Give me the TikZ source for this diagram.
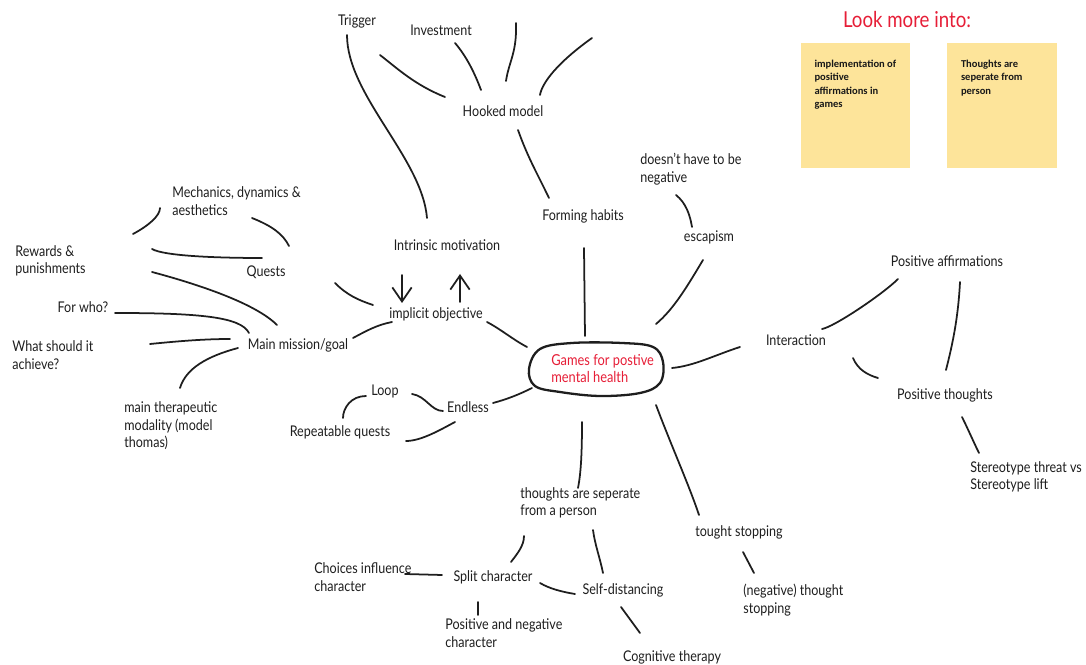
\documentclass[tikz,border=0pt]{standalone}
\usepackage{fontspec}
\setmainfont{Lato}[FakeStretch=0.85]
\newfontfamily\notefont{Carlito}
\usetikzlibrary{calc,positioning,arrows.meta}
\definecolor{notefill}{RGB}{253,228,154}
\definecolor{mapred}{RGB}{230,30,55}
\definecolor{inkline}{RGB}{30,30,30}
\tikzset{
  link/.style={
    draw=inkline,
    line width=1pt,
    line cap=round,
    line join=round
  },
  link-arrow/.style={link, -{Straight Barb[length=8pt,width=11pt]}},
  label-text/.style={inner sep=0pt, text=inkline, font=\fontsize{8.4pt}{10pt}\selectfont, text height=6pt, text depth=1.8pt},
  label-block/.style={inner sep=0pt, text=inkline, font=\fontsize{8.4pt}{10pt}\selectfont, align=left, anchor=west},
  label-red/.style={label-block, text=mapred, font=\fontsize{8.6pt}{9.7pt}\selectfont},
  note-box/.style={fill=notefill, minimum width=2.2cm, minimum height=2.5cm, inner sep=0pt},
  note-text/.style={inner sep=0pt, font=\notefont\bfseries\fontsize{6pt}{7.6pt}\selectfont, align=left, text=black!90},
  title-red/.style={inner sep=0pt, text=mapred, font=\fontsize{12.5pt}{14pt}\selectfont}
}
\newcommand{\stickynote}[3]{
  \node[note-box] (#1) at (#2) {};
  \node[note-text, below right=0.34cm and 0.28cm of #1.north west] (#1-text) {#3};
}

\begin{document}
\begin{tikzpicture}[x=0.02cm, y=-0.02cm]
  \useasboundingbox (0,0) rectangle (1086,665);
  % centre
  \node[label-red] (games) at (551,369) {Games for postive\\mental health};
  \draw[link, line width=1.3pt] plot[smooth cycle, tension=0.6] coordinates {(540,349) (572,343) (622,343) (653,347) (663,362) (660,383) (640,393) (600,396) (560,392) (535,386) (529,369)};
  % hooked model branch
  \node[label-text] (trigger) at (357,22) {Trigger};
  \node[label-text] (investment) at (441,32) {Investment};
  \node[label-text] (hooked) at (503,113) {Hooked model};
  \node[label-text] (forming) at (583,217) {Forming habits};
  \coordinate (stub-left) at (380,55);
  \coordinate (stub-top) at (516,23);
  \coordinate (stub-right) at (592,38);
  \draw[link] (stub-left) .. controls +(18,14) and +(-30,-12) .. ($(hooked)+(-58,-16)$);
  \draw[link] ($(investment)+(14,11)$) .. controls +(12,14) and +(-6,-16) .. ($(hooked)+(-22,-23)$);
  \draw[link] (stub-top) .. controls +(1,30) and +(3,-20) .. ($(hooked)+(3,-32)$);
  \draw[link] (stub-right) .. controls +(-35,25) and +(2,-12) .. ($(hooked)+(37,-18)$);
  \draw[link] ($(hooked)+(15,17)$) .. controls +(10,28) and +(-12,-25) .. ($(forming)+(-34,-19)$);
  \draw[link] ($(forming)+(1,31)$) -- ($(games.west)+(34,-33)$);
  % escapism
  \node[label-block] (not-negative) at (640,169) {doesn't have to be\\negative};
  \node[label-text] (escapism) at (709,238) {escapism};
  \draw[link] ($(not-negative.west)+(36,26)$) .. controls +(10,8) and +(-2,-12) .. ($(escapism)+(-17,-11)$);
  \draw[link] ($(escapism)+(-6,22)$) .. controls +(-15,25) and +(18,-15) .. ($(games.west)+(105,-45)$);
  % motivation and objective
  \node[label-text] (intrinsic) at (447,247) {Intrinsic motivation};
  \node[label-text] (implicit) at (436,315) {implicit objective};
  \draw[link] ($(trigger)+(-10,13)$) .. controls +(0,60) and +(-5,-60) .. ($(intrinsic)+(-20,-29)$);
  \draw[link-arrow] ($(intrinsic)+(-45,28)$) -- ($(implicit)+(-34,-12)$);
  \draw[link-arrow] ($(implicit)+(24,-13)$) -- ($(intrinsic)+(13,27)$);
  \draw[link] ($(implicit)+(51,7)$) .. controls +(15,8) and +(-15,-8) .. ($(games.west)+(-24,-22)$);
  % main mission branch
  \node[label-block] (mechanics) at (172,201) {Mechanics, dynamics \&\\aesthetics};
  \node[label-block] (rewards) at (15,261) {Rewards \&\\punishments};
  \node[label-text] (quests) at (266,273) {Quests};
  \node[label-text] (forwho) at (83,309) {For who?};
  \node[label-text] (mainmission) at (298,346) {Main mission/goal};
  \node[label-block] (whatshould) at (12,355) {What should it\\achieve?};
  \node[label-block] (therapeutic) at (124,426) {main therapeutic\\modality (model\\thomas)};
  \coordinate (stub-mech) at (133,234);
  \draw[link] (stub-mech) .. controls +(15,-8) and +(0,8) .. ($(mechanics.west)+(-12,7)$);
  \draw[link] ($(mechanics.west)+(80,17)$) .. controls +(20,8) and +(-6,-12) .. ($(quests)+(23,-27)$);
  \draw[link] ($(rewards.west)+(137,-12)$) .. controls +(12,7) and +(-45,0) .. ($(quests)+(-4,-15)$);
  \draw[link] ($(rewards.west)+(137,11)$) .. controls +(45,12) and +(-22,-22) .. ($(mainmission)+(-21,-21)$);
  \draw[link] ($(quests)+(69,10)$) .. controls +(12,12) and +(-15,-5) .. ($(implicit)+(-63,-10)$);
  \draw[link] ($(forwho)+(32,4)$) .. controls +(85,0) and +(-8,-16) .. ($(mainmission)+(-49,-13)$);
  \draw[link] ($(whatshould.west)+(138,-11)$) .. controls +(30,-3) and +(-25,0) .. ($(mainmission)+(-68,-7)$);
  \draw[link] ($(therapeutic.west)+(56,-38)$) .. controls +(6,-20) and +(-30,8) .. ($(mainmission)+(-60,2)$);
  \draw[link] ($(mainmission)+(55,-8)$) .. controls +(15,-8) and +(-15,3) .. ($(implicit)+(-44,7)$);
  % endless branch
  \node[label-text] (loop) at (385,392) {Loop};
  \node[label-text] (endless) at (468,409) {Endless};
  \node[label-text] (repeatable) at (340,433) {Repeatable quests};
  \draw[link] ($(loop)+(27,2)$) .. controls +(14,2) and +(-12,0) .. ($(endless)+(-25,2)$);
  \draw[link] ($(loop)+(-19,4)$) .. controls +(-15,0) and +(0,-10) .. ($(repeatable)+(3,-15)$);
  \draw[link] ($(repeatable)+(66,8)$) .. controls +(15,0) and +(-15,8) .. ($(endless)+(-13,13)$);
  \draw[link] ($(endless)+(25,-6)$) .. controls +(15,-4) and +(-12,6) .. ($(games.west)+(-19,19)$);
  % interaction branch
  \node[label-text] (interaction) at (796,342) {Interaction};
  \node[label-text] (posaff) at (947,263) {Positive affirmations};
  \node[label-text] (posthoughts) at (945,396) {Positive thoughts};
  \node[label-block] (stereotype) at (970,477) {Stereotype threat vs\\Stereotype lift};
  \draw[link] ($(games.west)+(121,-1)$) .. controls +(22,-2) and +(-25,8) .. ($(interaction)+(-56,5)$);
  \draw[link] ($(interaction)+(26,-13)$) .. controls +(12,-2) and +(-15,15) .. ($(posaff)+(-49,16)$);
  \draw[link] ($(interaction)+(57,16)$) .. controls +(5,12) and +(-10,-3) .. ($(posthoughts)+(-67,-18)$);
  \draw[link] ($(posaff)+(13,19)$) .. controls +(-2,40) and +(5,-20) .. ($(posthoughts)+(1,-26)$);
  \draw[link] ($(posthoughts)+(17,21)$) .. controls +(6,12) and +(-5,-10) .. ($(stereotype.west)+(9,-24)$);
  % thoughts branch
  \node[label-block] (thoughtsep) at (520,503) {thoughts are seperate\\from a person};
  \node[label-text] (tought) at (739,533) {tought stopping};
  \node[label-block] (negstop) at (743,600) {(negative) thought\\stopping};
  \node[label-block] (choices) at (314,577) {Choices influence\\character};
  \node[label-text] (split) at (493,578) {Split character};
  \node[label-text] (selfdist) at (623,591) {Self-distancing};
  \node[label-block] (posneg) at (445,633) {Positive and negative\\character};
  \node[label-text] (cognitive) at (672,658) {Cognitive therapy};
  \draw[link] ($(games.west)+(31,53)$) .. controls +(0,30) and +(3,-15) .. ($(thoughtsep.west)+(58,-15)$);
  \draw[link] ($(games.west)+(105,36)$) .. controls +(15,40) and +(-10,-30) .. ($(tought)+(-40,-18)$);
  \draw[link] ($(tought)+(4,19)$) -- ($(negstop.west)+(11,-27)$);
  \draw[link] ($(thoughtsep.west)+(4,33)$) .. controls +(0,10) and +(6,-8) .. ($(split)+(18,-16)$);
  \draw[link] ($(thoughtsep.west)+(73,27)$) .. controls +(2,15) and +(-3,-15) .. ($(selfdist)+(-20,-18)$);
  \draw[link] ($(choices.west)+(91,-3)$) -- ($(split)+(-51,-3)$);
  \draw[link] ($(split)+(47,5)$) .. controls +(10,6) and +(-12,-2) .. ($(selfdist)+(-48,3)$);
  \draw[link] ($(split)+(-15,24)$) -- ($(posneg.west)+(33,-18)$);
  \draw[link] ($(selfdist)+(-2,16)$) -- ($(cognitive)+(-32,-25)$);
  % notes
  \node[title-red] (lookmore) at (907,20) {Look more into:};
  \stickynote{note-a}{855.5,105.5}{implementation of\\positive\\affirmations in\\games}
  \stickynote{note-b}{1002,105.5}{Thoughts are\\seperate from\\person}
\end{tikzpicture}
\end{document}
